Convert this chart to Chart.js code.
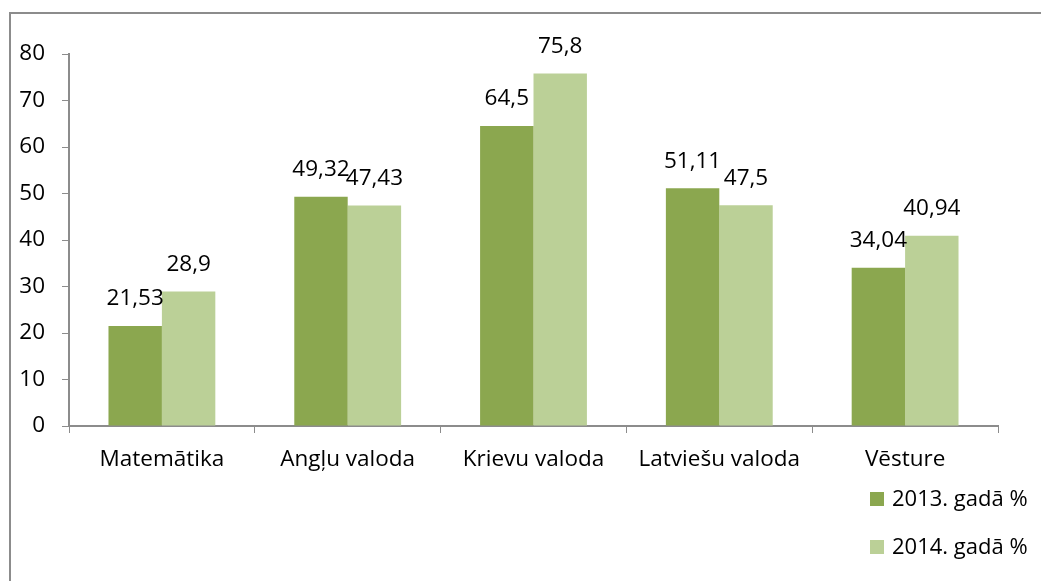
<!DOCTYPE html>
<html>
<head>
<meta charset="utf-8">
<script src="https://cdn.jsdelivr.net/npm/chart.js@4"></script>
<style>
  body { margin: 0; background: #fff; }
  #wrap { position: relative; width: 1041px; height: 581px; overflow: hidden; }
  #frame { position: absolute; left: 9px; top: 12px; width: 1100px; height: 600px;
           border-top: 2px solid #8c8c8c; border-left: 2px solid #8c8c8c; }
  #legend { position: absolute; left: 870px; top: 482px; font-family: "Open Sans", sans-serif; font-size: 22px; color: #000; }
  #legend div { height: 48px; display: flex; align-items: flex-start; }
  #legend span.box { display: inline-block; width: 14px; height: 14px; margin: 10px 8px 0 0; }
</style>
</head>
<body>
<div id="wrap">
  <div id="frame"></div>
  <canvas id="chart" width="1041" height="581"></canvas>
  <div id="legend"></div>
</div>
<script>
const subjects = ["Matemātika", "Angļu valoda", "Krievu valoda", "Latviešu valoda", "Vēsture"];
const values2013 = [21.53, 49.32, 64.5, 51.11, 34.04];
const values2014 = [28.9, 47.43, 75.8, 47.5, 40.94];
const seriesNames = ["2013. gadā %", "2014. gadā %"];
const seriesColors = ["#8ba74f", "#bbd097"];
const yTicks = [0, 10, 20, 30, 40, 50, 60, 70, 80];

// labels above the bars, decimal comma
const barLabels = {
    id: "barLabels",
    afterDatasetsDraw(chart) {
        const ctx = chart.ctx;
        ctx.save();
        ctx.font = "22.5px 'Open Sans', sans-serif";
        ctx.fillStyle = "#000";
        ctx.textAlign = "center";
        ctx.textBaseline = "middle";
        chart.data.datasets.forEach((ds, i) => {
            chart.getDatasetMeta(i).data.forEach((bar, j) => {
                const txt = String(ds.data[j]).replace(".", ",");
                ctx.fillText(txt, bar.x, bar.y - 27);
            });
        });
        ctx.restore();
    }
};

new Chart(document.getElementById("chart"), {
    type: "bar",
    data: {
        labels: subjects,
        datasets: [
            { label: seriesNames[0], data: values2013, backgroundColor: seriesColors[0] },
            { label: seriesNames[1], data: values2014, backgroundColor: seriesColors[1] }
        ]
    },
    options: {
        responsive: false,
        animation: false,
        datasets: { bar: { barPercentage: 1, categoryPercentage: 0.575 } },
        layout: { padding: { left: 0, top: 54, right: 43, bottom: 0 } },
        plugins: { legend: { display: false }, tooltip: { enabled: false } },
        scales: {
            x: {
                grid: { drawOnChartArea: false, drawTicks: true, tickLength: 7, color: "#8c8c8c", offset: true },
                border: { color: "#8c8c8c", width: 2 },
                ticks: { color: "#000", font: { family: "Open Sans", size: 22.5 }, padding: 13, maxRotation: 0 },
                afterFit(scale) { scale.height = 155; }
            },
            y: {
                min: 0,
                max: 80,
                afterBuildTicks(scale) { scale.ticks = yTicks.map(v => ({ value: v })); },
                grid: { drawOnChartArea: false, drawTicks: true, tickLength: 7, color: "#8c8c8c" },
                border: { color: "#8c8c8c", width: 2 },
                ticks: { color: "#000", font: { family: "Open Sans", size: 22.5 }, padding: 17 },
                afterFit(scale) { scale.width = 69; }
            }
        }
    },
    plugins: [barLabels]
});

let html = "";
seriesNames.forEach((n, i) => {
    html += `<div><span class="box" style="background:${seriesColors[i]}"></span>${n}</div>`;
});
document.getElementById("legend").innerHTML = html;
</script>
</body>
</html>
